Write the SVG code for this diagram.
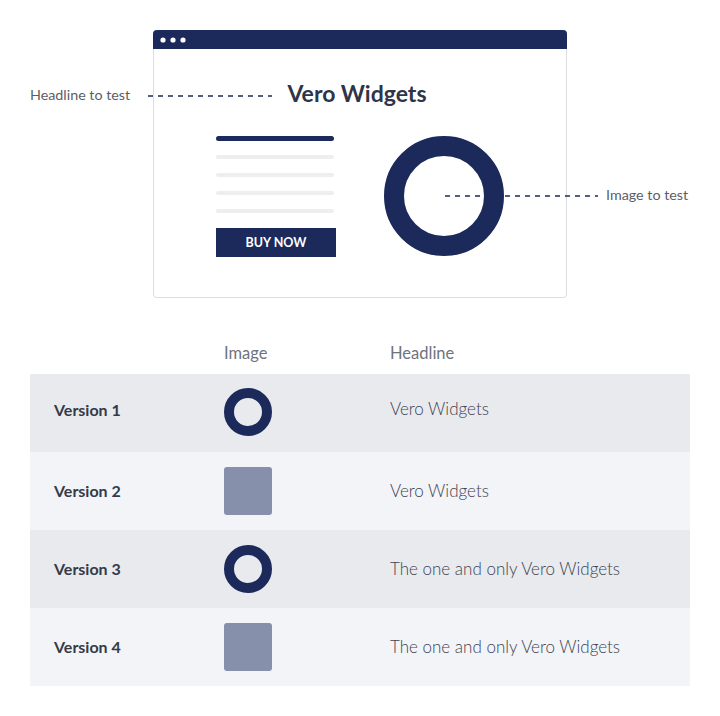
<svg xmlns="http://www.w3.org/2000/svg" width="720" height="716" viewBox="0 0 720 716">
<style>
text{font-family:Lato,"Open Sans","Liberation Sans",sans-serif}
.note{font-size:14.3px;fill:#5a5e68}
.dash{stroke:#1b2a5a;stroke-width:1.6;stroke-dasharray:5 5;fill:none}
.hdr{font-size:16.5px;fill:#6f737d;font-weight:400}
.ver{font-size:16px;fill:#353a47;font-weight:700}
.head{font-size:17px;fill:#3f4352;font-weight:300}
.navy{fill:#1b2a5a}
.sq{fill:#8790aa}
.ring{fill:none;stroke:#1b2a5a}
.gl{fill:#eeeeef}
</style>
<rect width="720" height="716" fill="#ffffff"/>
<g id="browser">
<rect x="153.5" y="30.5" width="413" height="267" rx="3" fill="#fff" stroke="#dcdde0"/>
<path d="M153 49 V34 Q153 30 157 30 H563 Q567 30 567 34 V49 Z" class="navy"/>
<circle cx="163" cy="40" r="2.6" fill="#fff"/>
<circle cx="173" cy="40" r="2.6" fill="#fff"/>
<circle cx="183" cy="40" r="2.6" fill="#fff"/>
<text x="357" y="102" text-anchor="middle" font-size="23" font-weight="700" fill="#2f3446">Vero Widgets</text>
<rect x="216" y="136" width="118" height="5" rx="2.5" class="navy"/>
<rect x="216" y="155" width="118" height="4" rx="2" class="gl"/>
<rect x="216" y="173" width="118" height="4" rx="2" class="gl"/>
<rect x="216" y="191" width="118" height="4" rx="2" class="gl"/>
<rect x="216" y="209" width="118" height="4" rx="2" class="gl"/>
<rect x="216" y="228" width="120" height="29" class="navy"/>
<text x="276" y="247" text-anchor="middle" font-size="12.5" font-weight="700" fill="#fff">BUY NOW</text>
<circle cx="444" cy="196" r="50" class="ring" stroke-width="20"/>
</g>
<g id="connectors">
<line x1="148" y1="96" x2="272" y2="96" class="dash"/>
<line x1="445" y1="196" x2="598" y2="196" class="dash"/>
</g>
<g id="label-headline"><text x="30" y="100" class="note">Headline to test</text></g>
<g id="label-image"><text x="606" y="200" class="note">Image to test</text></g>
<g id="table">
<text x="224" y="359" class="hdr">Image</text>
<text x="390" y="359" class="hdr">Headline</text>
<g id="row1">
<rect x="30" y="374" width="660" height="78" fill="#e8eaee"/>
<text x="54" y="416" class="ver">Version 1</text>
<circle cx="248" cy="412" r="19" class="ring" stroke-width="10"/>
<text x="390" y="415" class="head">Vero Widgets</text>
</g>
<g id="row2">
<rect x="30" y="452" width="660" height="78" fill="#f2f4f8"/>
<text x="54" y="497" class="ver">Version 2</text>
<rect x="224" y="467" width="48" height="48" rx="3" class="sq"/>
<text x="390" y="497" class="head">Vero Widgets</text>
</g>
<g id="row3">
<rect x="30" y="530" width="660" height="78" fill="#e8eaee"/>
<text x="54" y="575" class="ver">Version 3</text>
<circle cx="248" cy="569" r="19" class="ring" stroke-width="10"/>
<text x="390" y="575" class="head">The one and only Vero Widgets</text>
</g>
<g id="row4">
<rect x="30" y="608" width="660" height="78" fill="#f2f4f8"/>
<text x="54" y="653" class="ver">Version 4</text>
<rect x="224" y="623" width="48" height="48" rx="3" class="sq"/>
<text x="390" y="653" class="head">The one and only Vero Widgets</text>
</g>
</g>
</svg>
